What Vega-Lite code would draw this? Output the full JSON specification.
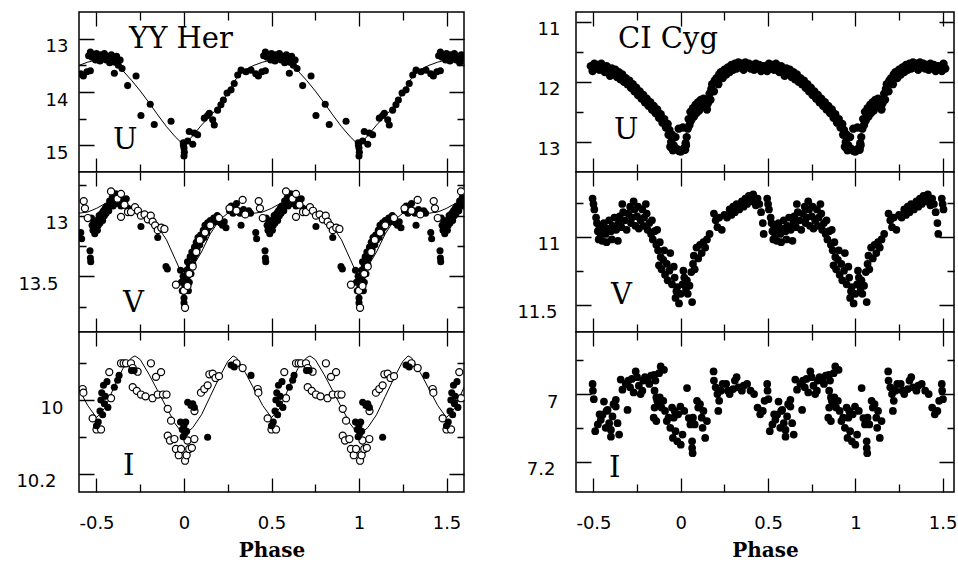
{
"$schema":"https://vega.github.io/schema/vega-lite/v6.json",
"autosize":{"type":"pad"},
"padding":{"left":15,"top":11,"right":0,"bottom":0},
"background":"white",
"spacing":51,
"config":{
"view":{"stroke":"black","strokeWidth":1.5,"fill":"white"},
"axis":{"grid":true,"gridColor":"black","gridOpacity":1,"gridWidth":1.3,"ticks":false,"domain":false,"labelFont":"DejaVu Sans","labelFontSize":18,"labelColor":"black","labelFlush":false,"labelOverlap":false,"titleFont":"DejaVu Serif","titleFontSize":20,"titleFontWeight":"bold","titleColor":"black"},
"axisY":{"labelBaseline":"top","labelOffset":-1},
"title":{"font":"DejaVu Serif","fontSize":29,"fontWeight":"normal","color":"black","anchor":"start","frame":"group","orient":"top","baseline":"alphabetic"}
},
"datasets":{
"yyU":[{"phase":-0.59,"mag":13.66},{"phase":-0.575,"mag":13.7},{"phase":-0.555,"mag":13.62},{"phase":-0.535,"mag":13.6},{"phase":-0.545,"mag":13.32},{"phase":-0.535,"mag":13.25},{"phase":-0.525,"mag":13.35},{"phase":-0.515,"mag":13.3},{"phase":-0.505,"mag":13.4},{"phase":-0.5,"mag":13.28},{"phase":-0.49,"mag":13.35},{"phase":-0.48,"mag":13.42},{"phase":-0.475,"mag":13.3},{"phase":-0.465,"mag":13.37},{"phase":-0.455,"mag":13.28},{"phase":-0.445,"mag":13.4},{"phase":-0.435,"mag":13.33},{"phase":-0.425,"mag":13.45},{"phase":-0.415,"mag":13.3},{"phase":-0.405,"mag":13.38},{"phase":-0.395,"mag":13.44},{"phase":-0.385,"mag":13.33},{"phase":-0.375,"mag":13.5},{"phase":-0.365,"mag":13.4},{"phase":-0.398,"mag":13.65},{"phase":-0.354,"mag":13.56},{"phase":-0.322,"mag":13.88},{"phase":-0.274,"mag":13.7},{"phase":-0.246,"mag":14.44},{"phase":-0.193,"mag":14.23},{"phase":-0.17,"mag":14.61},{"phase":-0.074,"mag":14.55},{"phase":-0.004,"mag":14.95},{"phase":0,"mag":15.05},{"phase":0.002,"mag":15.13},{"phase":0,"mag":15.2},{"phase":-0.003,"mag":15.0},{"phase":0.021,"mag":14.92},{"phase":0.03,"mag":14.74},{"phase":0.05,"mag":14.98},{"phase":0.059,"mag":14.77},{"phase":0.078,"mag":14.8},{"phase":0.116,"mag":14.49},{"phase":0.135,"mag":14.44},{"phase":0.145,"mag":14.4},{"phase":0.164,"mag":14.52},{"phase":0.173,"mag":14.62},{"phase":0.192,"mag":14.34},{"phase":0.211,"mag":14.24},{"phase":0.225,"mag":14.15},{"phase":0.246,"mag":14.02},{"phase":0.269,"mag":13.96},{"phase":0.287,"mag":13.84},{"phase":0.307,"mag":13.68},{"phase":0.326,"mag":13.59},{"phase":0.354,"mag":13.62},{"phase":0.383,"mag":13.59},
{"phase":0.41,"mag":13.66},{"phase":0.425,"mag":13.7},{"phase":0.445,"mag":13.62},{"phase":0.465,"mag":13.6},{"phase":0.455,"mag":13.32},{"phase":0.465,"mag":13.25},{"phase":0.475,"mag":13.35},{"phase":0.485,"mag":13.3},{"phase":0.495,"mag":13.4},{"phase":0.5,"mag":13.28},{"phase":0.51,"mag":13.35},{"phase":0.52,"mag":13.42},{"phase":0.525,"mag":13.3},{"phase":0.535,"mag":13.37},{"phase":0.545,"mag":13.28},{"phase":0.555,"mag":13.4},{"phase":0.565,"mag":13.33},{"phase":0.575,"mag":13.45},{"phase":0.585,"mag":13.3},{"phase":0.595,"mag":13.38},{"phase":0.605,"mag":13.44},{"phase":0.615,"mag":13.33},{"phase":0.625,"mag":13.5},{"phase":0.635,"mag":13.4},{"phase":0.602,"mag":13.65},{"phase":0.646,"mag":13.56},{"phase":0.678,"mag":13.88},{"phase":0.726,"mag":13.7},{"phase":0.754,"mag":14.44},{"phase":0.807,"mag":14.23},{"phase":0.83,"mag":14.61},{"phase":0.926,"mag":14.55},{"phase":0.996,"mag":14.95},{"phase":1,"mag":15.05},{"phase":1.002,"mag":15.13},{"phase":1,"mag":15.2},{"phase":0.997,"mag":15.0},{"phase":1.021,"mag":14.92},{"phase":1.03,"mag":14.74},{"phase":1.05,"mag":14.98},{"phase":1.059,"mag":14.77},{"phase":1.078,"mag":14.8},{"phase":1.116,"mag":14.49},{"phase":1.135,"mag":14.44},{"phase":1.145,"mag":14.4},{"phase":1.164,"mag":14.52},{"phase":1.173,"mag":14.62},{"phase":1.192,"mag":14.34},{"phase":1.211,"mag":14.24},{"phase":1.225,"mag":14.15},{"phase":1.246,"mag":14.02},{"phase":1.269,"mag":13.96},{"phase":1.287,"mag":13.84},{"phase":1.307,"mag":13.68},{"phase":1.326,"mag":13.59},{"phase":1.354,"mag":13.62},{"phase":1.383,"mag":13.59},
{"phase":1.41,"mag":13.66},{"phase":1.425,"mag":13.7},{"phase":1.445,"mag":13.62},{"phase":1.465,"mag":13.6},{"phase":1.455,"mag":13.32},{"phase":1.465,"mag":13.25},{"phase":1.475,"mag":13.35},{"phase":1.485,"mag":13.3},{"phase":1.495,"mag":13.4},{"phase":1.5,"mag":13.28},{"phase":1.51,"mag":13.35},{"phase":1.52,"mag":13.42},{"phase":1.525,"mag":13.3},{"phase":1.535,"mag":13.37},{"phase":1.545,"mag":13.28},{"phase":1.555,"mag":13.4},{"phase":1.565,"mag":13.33},{"phase":1.575,"mag":13.45},{"phase":1.585,"mag":13.3},{"phase":1.595,"mag":13.38}],
"yyUfit":[{"phase":-0.6,"mag":13.5},{"phase":-0.55,"mag":13.44},{"phase":-0.5,"mag":13.4},{"phase":-0.45,"mag":13.4},{"phase":-0.4,"mag":13.47},{"phase":-0.35,"mag":13.6},{"phase":-0.3,"mag":13.78},{"phase":-0.25,"mag":13.98},{"phase":-0.2,"mag":14.2},{"phase":-0.15,"mag":14.43},{"phase":-0.1,"mag":14.65},{"phase":-0.05,"mag":14.84},{"phase":0,"mag":15.0},{"phase":0.05,"mag":14.82},{"phase":0.1,"mag":14.62},{"phase":0.15,"mag":14.45},{"phase":0.2,"mag":14.27},{"phase":0.25,"mag":14.03},{"phase":0.3,"mag":13.74},{"phase":0.35,"mag":13.58},{"phase":0.4,"mag":13.5},{"phase":0.45,"mag":13.44},{"phase":0.5,"mag":13.4},{"phase":0.55,"mag":13.4},{"phase":0.6,"mag":13.47},{"phase":0.65,"mag":13.6},{"phase":0.7,"mag":13.78},{"phase":0.75,"mag":13.98},{"phase":0.8,"mag":14.2},{"phase":0.85,"mag":14.43},{"phase":0.9,"mag":14.65},{"phase":0.95,"mag":14.84},{"phase":1.0,"mag":15.0},{"phase":1.05,"mag":14.82},{"phase":1.1,"mag":14.62},{"phase":1.15,"mag":14.45},{"phase":1.2,"mag":14.27},{"phase":1.25,"mag":14.03},{"phase":1.3,"mag":13.74},{"phase":1.35,"mag":13.58},{"phase":1.4,"mag":13.5},{"phase":1.45,"mag":13.44},{"phase":1.5,"mag":13.4},{"phase":1.55,"mag":13.4},{"phase":1.6,"mag":13.47}],
"yyVf":[{"phase":-0.59,"mag":13.14},{"phase":-0.585,"mag":13.19},{"phase":-0.537,"mag":13.29},{"phase":-0.535,"mag":13.35},{"phase":-0.533,"mag":13.38},{"phase":-0.53,"mag":13.02},{"phase":-0.525,"mag":13.08},{"phase":-0.52,"mag":13.12},{"phase":-0.515,"mag":13.05},{"phase":-0.51,"mag":13.15},{"phase":-0.505,"mag":13.1},{"phase":-0.5,"mag":13.04},{"phase":-0.495,"mag":13.12},{"phase":-0.49,"mag":13.08},{"phase":-0.485,"mag":13.0},{"phase":-0.48,"mag":13.06},{"phase":-0.475,"mag":13.02},{"phase":-0.47,"mag":12.98},{"phase":-0.465,"mag":13.04},{"phase":-0.46,"mag":12.96},{"phase":-0.455,"mag":13.0},{"phase":-0.45,"mag":12.94},{"phase":-0.445,"mag":12.98},{"phase":-0.44,"mag":12.92},{"phase":-0.43,"mag":12.96},{"phase":-0.425,"mag":12.88},{"phase":-0.42,"mag":12.9},{"phase":-0.41,"mag":12.85},{"phase":-0.405,"mag":12.92},{"phase":-0.4,"mag":12.86},{"phase":-0.39,"mag":12.82},{"phase":-0.385,"mag":12.9},{"phase":-0.38,"mag":12.86},{"phase":-0.37,"mag":12.88},{"phase":-0.365,"mag":12.84},{"phase":-0.36,"mag":12.92},{"phase":-0.35,"mag":12.87},{"phase":-0.34,"mag":12.9},{"phase":-0.33,"mag":12.86},{"phase":-0.32,"mag":12.94},{"phase":-0.246,"mag":13.09},{"phase":-0.15,"mag":13.18},{"phase":-0.103,"mag":13.42},{"phase":-0.095,"mag":13.44},{"phase":-0.02,"mag":13.45},{"phase":-0.015,"mag":13.55},{"phase":-0.01,"mag":13.62},{"phase":-0.005,"mag":13.5},{"phase":0,"mag":13.68},{"phase":0,"mag":13.72},{"phase":0.005,"mag":13.58},{"phase":0.01,"mag":13.6},{"phase":0.012,"mag":13.52},{"phase":0.015,"mag":13.45},{"phase":0.02,"mag":13.38},{"phase":0.02,"mag":13.5},{"phase":0.025,"mag":13.62},{"phase":0.03,"mag":13.42},{"phase":0.03,"mag":13.55},{"phase":0.035,"mag":13.34},{"phase":0.04,"mag":13.48},{"phase":0.045,"mag":13.3},{"phase":0.05,"mag":13.4},{"phase":0.055,"mag":13.35},{"phase":0.06,"mag":13.26},{"phase":0.065,"mag":13.32},{"phase":0.07,"mag":13.22},{"phase":0.075,"mag":13.28},{"phase":0.08,"mag":13.18},{"phase":0.09,"mag":13.24},{"phase":0.095,"mag":13.16},{"phase":0.1,"mag":13.2},{"phase":0.11,"mag":13.12},{"phase":0.115,"mag":13.18},{"phase":0.12,"mag":13.08},{"phase":0.13,"mag":13.14},{"phase":0.135,"mag":13.06},{"phase":0.14,"mag":13.1},{"phase":0.15,"mag":13.04},{"phase":0.16,"mag":13.06},{"phase":0.17,"mag":13.02},{"phase":0.18,"mag":13.05},{"phase":0.19,"mag":13.0},{"phase":0.2,"mag":13.04},{"phase":0.21,"mag":13.06},{"phase":0.22,"mag":13.08},{"phase":0.23,"mag":13.05},{"phase":0.24,"mag":13.1},{"phase":0.26,"mag":12.96},{"phase":0.27,"mag":12.92},{"phase":0.28,"mag":12.98},{"phase":0.29,"mag":12.94},{"phase":0.3,"mag":12.9},{"phase":0.31,"mag":12.96},{"phase":0.32,"mag":12.98},{"phase":0.326,"mag":13.08},{"phase":0.34,"mag":12.95},{"phase":0.36,"mag":12.98},{"phase":0.37,"mag":12.96},{"phase":0.38,"mag":12.98},
{"phase":0.41,"mag":13.14},{"phase":0.415,"mag":13.19},{"phase":0.463,"mag":13.29},{"phase":0.465,"mag":13.35},{"phase":0.467,"mag":13.38},{"phase":0.47,"mag":13.02},{"phase":0.475,"mag":13.08},{"phase":0.48,"mag":13.12},{"phase":0.485,"mag":13.05},{"phase":0.49,"mag":13.15},{"phase":0.495,"mag":13.1},{"phase":0.5,"mag":13.04},{"phase":0.505,"mag":13.12},{"phase":0.51,"mag":13.08},{"phase":0.515,"mag":13.0},{"phase":0.52,"mag":13.06},{"phase":0.525,"mag":13.02},{"phase":0.53,"mag":12.98},{"phase":0.535,"mag":13.04},{"phase":0.54,"mag":12.96},{"phase":0.545,"mag":13.0},{"phase":0.55,"mag":12.94},{"phase":0.555,"mag":12.98},{"phase":0.56,"mag":12.92},{"phase":0.57,"mag":12.96},{"phase":0.575,"mag":12.88},{"phase":0.58,"mag":12.9},{"phase":0.59,"mag":12.85},{"phase":0.595,"mag":12.92},{"phase":0.6,"mag":12.86},{"phase":0.61,"mag":12.82},{"phase":0.615,"mag":12.9},{"phase":0.62,"mag":12.86},{"phase":0.63,"mag":12.88},{"phase":0.635,"mag":12.84},{"phase":0.64,"mag":12.92},{"phase":0.65,"mag":12.87},{"phase":0.66,"mag":12.9},{"phase":0.67,"mag":12.86},{"phase":0.68,"mag":12.94},{"phase":0.754,"mag":13.09},{"phase":0.85,"mag":13.18},{"phase":0.897,"mag":13.42},{"phase":0.905,"mag":13.44},{"phase":0.98,"mag":13.45},{"phase":0.985,"mag":13.55},{"phase":0.99,"mag":13.62},{"phase":0.995,"mag":13.5},{"phase":1,"mag":13.68},{"phase":1,"mag":13.72},{"phase":1.005,"mag":13.58},{"phase":1.01,"mag":13.6},{"phase":1.012,"mag":13.52},{"phase":1.015,"mag":13.45},{"phase":1.02,"mag":13.38},{"phase":1.02,"mag":13.5},{"phase":1.025,"mag":13.62},{"phase":1.03,"mag":13.42},{"phase":1.03,"mag":13.55},{"phase":1.035,"mag":13.34},{"phase":1.04,"mag":13.48},{"phase":1.045,"mag":13.3},{"phase":1.05,"mag":13.4},{"phase":1.055,"mag":13.35},{"phase":1.06,"mag":13.26},{"phase":1.065,"mag":13.32},{"phase":1.07,"mag":13.22},{"phase":1.075,"mag":13.28},{"phase":1.08,"mag":13.18},{"phase":1.09,"mag":13.24},{"phase":1.095,"mag":13.16},{"phase":1.1,"mag":13.2},{"phase":1.11,"mag":13.12},{"phase":1.115,"mag":13.18},{"phase":1.12,"mag":13.08},{"phase":1.13,"mag":13.14},{"phase":1.135,"mag":13.06},{"phase":1.14,"mag":13.1},{"phase":1.15,"mag":13.04},{"phase":1.16,"mag":13.06},{"phase":1.17,"mag":13.02},{"phase":1.18,"mag":13.05},{"phase":1.19,"mag":13.0},{"phase":1.2,"mag":13.04},{"phase":1.21,"mag":13.06},{"phase":1.22,"mag":13.08},{"phase":1.23,"mag":13.05},{"phase":1.24,"mag":13.1},{"phase":1.26,"mag":12.96},{"phase":1.27,"mag":12.92},{"phase":1.28,"mag":12.98},{"phase":1.29,"mag":12.94},{"phase":1.3,"mag":12.9},{"phase":1.31,"mag":12.96},{"phase":1.32,"mag":12.98},{"phase":1.326,"mag":13.08},{"phase":1.34,"mag":12.95},{"phase":1.36,"mag":12.98},{"phase":1.37,"mag":12.96},{"phase":1.38,"mag":12.98},
{"phase":1.41,"mag":13.14},{"phase":1.415,"mag":13.19},{"phase":1.463,"mag":13.29},{"phase":1.465,"mag":13.35},{"phase":1.467,"mag":13.38},{"phase":1.47,"mag":13.02},{"phase":1.475,"mag":13.08},{"phase":1.48,"mag":13.12},{"phase":1.485,"mag":13.05},{"phase":1.49,"mag":13.15},{"phase":1.495,"mag":13.1},{"phase":1.5,"mag":13.04},{"phase":1.505,"mag":13.12},{"phase":1.51,"mag":13.08},{"phase":1.515,"mag":13.0},{"phase":1.52,"mag":13.06},{"phase":1.525,"mag":13.02},{"phase":1.53,"mag":12.98},{"phase":1.535,"mag":13.04},{"phase":1.54,"mag":12.96},{"phase":1.545,"mag":13.0},{"phase":1.55,"mag":12.94},{"phase":1.555,"mag":12.98},{"phase":1.56,"mag":12.92},{"phase":1.57,"mag":12.96},{"phase":1.575,"mag":12.88},{"phase":1.58,"mag":12.9},{"phase":1.59,"mag":12.85},{"phase":1.595,"mag":12.92},{"phase":1.6,"mag":12.86}],
"yyVo":[{"phase":-0.573,"mag":12.88},{"phase":-0.566,"mag":12.94},{"phase":-0.55,"mag":13.02},{"phase":-0.417,"mag":12.8},{"phase":-0.38,"mag":12.86},{"phase":-0.36,"mag":12.82},{"phase":-0.34,"mag":12.91},{"phase":-0.36,"mag":13.01},{"phase":-0.32,"mag":12.97},{"phase":-0.303,"mag":12.97},{"phase":-0.28,"mag":12.93},{"phase":-0.263,"mag":12.96},{"phase":-0.246,"mag":13.0},{"phase":-0.225,"mag":12.99},{"phase":-0.207,"mag":13.03},{"phase":-0.19,"mag":13.0},{"phase":-0.179,"mag":13.05},{"phase":-0.165,"mag":13.08},{"phase":-0.15,"mag":13.12},{"phase":-0.13,"mag":13.1},{"phase":-0.112,"mag":13.11},{"phase":-0.046,"mag":13.57},{"phase":0.006,"mag":13.76},{"phase":0,"mag":13.62},{"phase":0.02,"mag":13.58},{"phase":0.03,"mag":13.48},{"phase":0.05,"mag":13.42},{"phase":0.07,"mag":13.3},{"phase":0.09,"mag":13.2},{"phase":0.12,"mag":13.14},{"phase":0.15,"mag":13.08},{"phase":0.2,"mag":13.02},{"phase":0.26,"mag":12.94},{"phase":0.3,"mag":12.96},{"phase":0.335,"mag":12.87},{"phase":0.35,"mag":12.99},
{"phase":0.427,"mag":12.88},{"phase":0.434,"mag":12.94},{"phase":0.45,"mag":13.02},{"phase":0.583,"mag":12.8},{"phase":0.62,"mag":12.86},{"phase":0.64,"mag":12.82},{"phase":0.66,"mag":12.91},{"phase":0.64,"mag":13.01},{"phase":0.68,"mag":12.97},{"phase":0.697,"mag":12.97},{"phase":0.72,"mag":12.93},{"phase":0.737,"mag":12.96},{"phase":0.754,"mag":13.0},{"phase":0.775,"mag":12.99},{"phase":0.793,"mag":13.03},{"phase":0.81,"mag":13.0},{"phase":0.821,"mag":13.05},{"phase":0.835,"mag":13.08},{"phase":0.85,"mag":13.12},{"phase":0.87,"mag":13.1},{"phase":0.888,"mag":13.11},{"phase":0.954,"mag":13.57},{"phase":1.006,"mag":13.76},{"phase":1,"mag":13.62},{"phase":1.02,"mag":13.58},{"phase":1.03,"mag":13.48},{"phase":1.05,"mag":13.42},{"phase":1.07,"mag":13.3},{"phase":1.09,"mag":13.2},{"phase":1.12,"mag":13.14},{"phase":1.15,"mag":13.08},{"phase":1.2,"mag":13.02},{"phase":1.26,"mag":12.94},{"phase":1.3,"mag":12.96},{"phase":1.335,"mag":12.87},{"phase":1.35,"mag":12.99},
{"phase":1.427,"mag":12.88},{"phase":1.434,"mag":12.94},{"phase":1.45,"mag":13.02},{"phase":1.583,"mag":12.8}],
"yyVfit":[{"phase":-0.6,"mag":12.98},{"phase":-0.55,"mag":12.97},{"phase":-0.5,"mag":12.94},{"phase":-0.45,"mag":12.9},{"phase":-0.4,"mag":12.88},{"phase":-0.35,"mag":12.89},{"phase":-0.3,"mag":12.93},{"phase":-0.25,"mag":12.98},{"phase":-0.2,"mag":13.03},{"phase":-0.15,"mag":13.09},{"phase":-0.1,"mag":13.2},{"phase":-0.05,"mag":13.36},{"phase":0,"mag":13.52},{"phase":0.05,"mag":13.42},{"phase":0.1,"mag":13.3},{"phase":0.15,"mag":13.15},{"phase":0.2,"mag":13.04},{"phase":0.25,"mag":12.98},{"phase":0.3,"mag":12.97},{"phase":0.35,"mag":12.97},{"phase":0.4,"mag":12.98},{"phase":0.45,"mag":12.97},{"phase":0.5,"mag":12.94},{"phase":0.55,"mag":12.9},{"phase":0.6,"mag":12.88},{"phase":0.65,"mag":12.89},{"phase":0.7,"mag":12.93},{"phase":0.75,"mag":12.98},{"phase":0.8,"mag":13.03},{"phase":0.85,"mag":13.09},{"phase":0.9,"mag":13.2},{"phase":0.95,"mag":13.36},{"phase":1.0,"mag":13.52},{"phase":1.05,"mag":13.42},{"phase":1.1,"mag":13.3},{"phase":1.15,"mag":13.15},{"phase":1.2,"mag":13.04},{"phase":1.25,"mag":12.98},{"phase":1.3,"mag":12.97},{"phase":1.35,"mag":12.97},{"phase":1.4,"mag":12.98},{"phase":1.45,"mag":12.97},{"phase":1.5,"mag":12.94},{"phase":1.55,"mag":12.9},{"phase":1.6,"mag":12.88}],
"yyIo":[{"phase":-0.579,"mag":9.97},{"phase":-0.575,"mag":9.98},{"phase":-0.522,"mag":10.05},{"phase":-0.5,"mag":10.08},{"phase":-0.474,"mag":10.08},{"phase":-0.427,"mag":9.924},{"phase":-0.417,"mag":9.995},{"phase":-0.36,"mag":9.9},{"phase":-0.345,"mag":9.9},{"phase":-0.331,"mag":9.9},{"phase":-0.303,"mag":9.9},{"phase":-0.293,"mag":9.913},{"phase":-0.265,"mag":9.923},{"phase":-0.293,"mag":9.965},{"phase":-0.27,"mag":9.975},{"phase":-0.246,"mag":9.985},{"phase":-0.22,"mag":9.99},{"phase":-0.189,"mag":9.9},{"phase":-0.18,"mag":9.995},{"phase":-0.16,"mag":9.937},{"phase":-0.15,"mag":9.985},{"phase":-0.131,"mag":9.924},{"phase":-0.12,"mag":9.985},{"phase":-0.1,"mag":9.985},{"phase":-0.093,"mag":10.024},{"phase":-0.074,"mag":10.056},{"phase":-0.093,"mag":10.097},{"phase":-0.08,"mag":10.11},{"phase":-0.055,"mag":10.106},{"phase":-0.046,"mag":10.133},{"phase":-0.03,"mag":10.15},{"phase":-0.017,"mag":10.133},{"phase":0.006,"mag":10.165},{"phase":0.015,"mag":10.15},{"phase":0.02,"mag":10.11},{"phase":0.03,"mag":10.133},{"phase":0.045,"mag":10.13},{"phase":0.059,"mag":10.106},{"phase":0.06,"mag":10.03},{"phase":0.097,"mag":9.98},{"phase":0.116,"mag":9.97},{"phase":0.135,"mag":9.96},{"phase":0.145,"mag":9.93},{"phase":0.164,"mag":9.928},{"phase":0.18,"mag":9.94},{"phase":0.2,"mag":9.935},{"phase":0.3,"mag":9.9},{"phase":0.335,"mag":9.913},
{"phase":0.421,"mag":9.97},{"phase":0.425,"mag":9.98},{"phase":0.478,"mag":10.05},{"phase":0.5,"mag":10.08},{"phase":0.526,"mag":10.08},{"phase":0.573,"mag":9.924},{"phase":0.583,"mag":9.995},{"phase":0.64,"mag":9.9},{"phase":0.655,"mag":9.9},{"phase":0.669,"mag":9.9},{"phase":0.697,"mag":9.9},{"phase":0.707,"mag":9.913},{"phase":0.735,"mag":9.923},{"phase":0.707,"mag":9.965},{"phase":0.73,"mag":9.975},{"phase":0.754,"mag":9.985},{"phase":0.78,"mag":9.99},{"phase":0.811,"mag":9.9},{"phase":0.82,"mag":9.995},{"phase":0.84,"mag":9.937},{"phase":0.85,"mag":9.985},{"phase":0.869,"mag":9.924},{"phase":0.88,"mag":9.985},{"phase":0.9,"mag":9.985},{"phase":0.907,"mag":10.024},{"phase":0.926,"mag":10.056},{"phase":0.907,"mag":10.097},{"phase":0.92,"mag":10.11},{"phase":0.945,"mag":10.106},{"phase":0.954,"mag":10.133},{"phase":0.97,"mag":10.15},{"phase":0.983,"mag":10.133},{"phase":1.006,"mag":10.165},{"phase":1.015,"mag":10.15},{"phase":1.02,"mag":10.11},{"phase":1.03,"mag":10.133},{"phase":1.045,"mag":10.13},{"phase":1.059,"mag":10.106},{"phase":1.06,"mag":10.03},{"phase":1.097,"mag":9.98},{"phase":1.116,"mag":9.97},{"phase":1.135,"mag":9.96},{"phase":1.145,"mag":9.93},{"phase":1.164,"mag":9.928},{"phase":1.18,"mag":9.94},{"phase":1.2,"mag":9.935},{"phase":1.3,"mag":9.9},{"phase":1.335,"mag":9.913},
{"phase":1.421,"mag":9.97},{"phase":1.425,"mag":9.98},{"phase":1.478,"mag":10.05},{"phase":1.5,"mag":10.08},{"phase":1.526,"mag":10.08},{"phase":1.573,"mag":9.924},{"phase":1.583,"mag":9.995}],
"yyIf":[{"phase":-0.5,"mag":10.07},{"phase":-0.49,"mag":10.06},{"phase":-0.48,"mag":10.03},{"phase":-0.475,"mag":10.0},{"phase":-0.47,"mag":9.98},{"phase":-0.465,"mag":10.04},{"phase":-0.46,"mag":9.96},{"phase":-0.455,"mag":10.01},{"phase":-0.45,"mag":9.99},{"phase":-0.44,"mag":9.95},{"phase":-0.435,"mag":10.02},{"phase":-0.398,"mag":9.965},{"phase":-0.379,"mag":9.946},{"phase":-0.371,"mag":9.933},{"phase":-0.3,"mag":9.92},{"phase":-0.285,"mag":9.92},{"phase":-0.02,"mag":10.06},{"phase":-0.01,"mag":10.08},{"phase":0,"mag":10.07},{"phase":0.005,"mag":10.09},{"phase":0.01,"mag":10.06},{"phase":-0.005,"mag":10.1},{"phase":0.015,"mag":10.085},{"phase":0.021,"mag":10.006},{"phase":0.04,"mag":10.015},{"phase":0.05,"mag":10.01},{"phase":0.059,"mag":10.02},{"phase":0.135,"mag":10.101},{"phase":0.269,"mag":9.905},{"phase":0.287,"mag":9.91},{"phase":0.383,"mag":9.933},
{"phase":0.5,"mag":10.07},{"phase":0.51,"mag":10.06},{"phase":0.52,"mag":10.03},{"phase":0.525,"mag":10.0},{"phase":0.53,"mag":9.98},{"phase":0.535,"mag":10.04},{"phase":0.54,"mag":9.96},{"phase":0.545,"mag":10.01},{"phase":0.55,"mag":9.99},{"phase":0.56,"mag":9.95},{"phase":0.565,"mag":10.02},{"phase":0.602,"mag":9.965},{"phase":0.621,"mag":9.946},{"phase":0.629,"mag":9.933},{"phase":0.7,"mag":9.92},{"phase":0.715,"mag":9.92},{"phase":0.98,"mag":10.06},{"phase":0.99,"mag":10.08},{"phase":1,"mag":10.07},{"phase":1.005,"mag":10.09},{"phase":1.01,"mag":10.06},{"phase":0.995,"mag":10.1},{"phase":1.015,"mag":10.085},{"phase":1.021,"mag":10.006},{"phase":1.04,"mag":10.015},{"phase":1.05,"mag":10.01},{"phase":1.059,"mag":10.02},{"phase":1.135,"mag":10.101},{"phase":1.269,"mag":9.905},{"phase":1.287,"mag":9.91},{"phase":1.383,"mag":9.933},
{"phase":1.5,"mag":10.07},{"phase":1.51,"mag":10.06},{"phase":1.52,"mag":10.03},{"phase":1.525,"mag":10.0},{"phase":1.53,"mag":9.98},{"phase":1.535,"mag":10.04},{"phase":1.54,"mag":9.96},{"phase":1.545,"mag":10.01},{"phase":1.55,"mag":9.99},{"phase":1.56,"mag":9.95},{"phase":1.565,"mag":10.02}],
"yyIfit":[{"phase":-0.6,"mag":9.97},{"phase":-0.55,"mag":10.015},{"phase":-0.5,"mag":10.048},{"phase":-0.45,"mag":10.02},{"phase":-0.4,"mag":9.965},{"phase":-0.35,"mag":9.915},{"phase":-0.3,"mag":9.885},{"phase":-0.28,"mag":9.88},{"phase":-0.25,"mag":9.89},{"phase":-0.2,"mag":9.93},{"phase":-0.15,"mag":9.975},{"phase":-0.1,"mag":10.02},{"phase":-0.05,"mag":10.065},{"phase":0,"mag":10.095},{"phase":0.05,"mag":10.075},{"phase":0.1,"mag":10.04},{"phase":0.15,"mag":9.99},{"phase":0.2,"mag":9.94},{"phase":0.25,"mag":9.895},{"phase":0.28,"mag":9.88},{"phase":0.3,"mag":9.885},{"phase":0.35,"mag":9.925},{"phase":0.4,"mag":9.97},{"phase":0.45,"mag":10.015},{"phase":0.5,"mag":10.048},{"phase":0.55,"mag":10.02},{"phase":0.6,"mag":9.965},{"phase":0.65,"mag":9.915},{"phase":0.7,"mag":9.885},{"phase":0.72,"mag":9.88},{"phase":0.75,"mag":9.89},{"phase":0.8,"mag":9.93},{"phase":0.85,"mag":9.975},{"phase":0.9,"mag":10.02},{"phase":0.95,"mag":10.065},{"phase":1.0,"mag":10.095},{"phase":1.05,"mag":10.075},{"phase":1.1,"mag":10.04},{"phase":1.15,"mag":9.99},{"phase":1.2,"mag":9.94},{"phase":1.25,"mag":9.895},{"phase":1.28,"mag":9.88},{"phase":1.3,"mag":9.885},{"phase":1.35,"mag":9.925},{"phase":1.4,"mag":9.97},{"phase":1.45,"mag":10.015},{"phase":1.5,"mag":10.048},{"phase":1.55,"mag":10.02},{"phase":1.6,"mag":9.965}],
"ciU":[{"phase":-0.515,"mag":11.74},{"phase":-0.505,"mag":11.82},{"phase":-0.495,"mag":11.7},{"phase":-0.485,"mag":11.78},{"phase":-0.475,"mag":11.72},{"phase":-0.465,"mag":11.8},{"phase":-0.455,"mag":11.7},{"phase":-0.445,"mag":11.76},{"phase":-0.435,"mag":11.84},{"phase":-0.425,"mag":11.74},{"phase":-0.415,"mag":11.8},{"phase":-0.405,"mag":11.9},{"phase":-0.395,"mag":11.78},{"phase":-0.385,"mag":11.86},{"phase":-0.375,"mag":11.8},{"phase":-0.365,"mag":11.92},{"phase":-0.355,"mag":11.84},{"phase":-0.345,"mag":11.96},{"phase":-0.335,"mag":11.88},{"phase":-0.325,"mag":12.0},{"phase":-0.315,"mag":11.94},{"phase":-0.305,"mag":12.04},{"phase":-0.295,"mag":11.98},{"phase":-0.285,"mag":12.1},{"phase":-0.275,"mag":12.04},{"phase":-0.265,"mag":12.16},{"phase":-0.255,"mag":12.1},{"phase":-0.245,"mag":12.22},{"phase":-0.235,"mag":12.16},{"phase":-0.225,"mag":12.28},{"phase":-0.215,"mag":12.22},{"phase":-0.205,"mag":12.34},{"phase":-0.195,"mag":12.28},{"phase":-0.185,"mag":12.4},{"phase":-0.175,"mag":12.34},{"phase":-0.165,"mag":12.46},{"phase":-0.155,"mag":12.4},{"phase":-0.145,"mag":12.52},{"phase":-0.135,"mag":12.46},{"phase":-0.125,"mag":12.6},{"phase":-0.115,"mag":12.54},{"phase":-0.105,"mag":12.68},{"phase":-0.095,"mag":12.62},{"phase":-0.085,"mag":12.76},{"phase":-0.075,"mag":12.7},{"phase":-0.07,"mag":12.88},{"phase":-0.065,"mag":12.8},{"phase":-0.06,"mag":13.08},{"phase":-0.055,"mag":13.0},{"phase":-0.05,"mag":12.88},{"phase":-0.045,"mag":13.14},{"phase":-0.04,"mag":13.06},{"phase":-0.03,"mag":12.92},{"phase":-0.02,"mag":13.12},{"phase":-0.01,"mag":13.15},{"phase":0,"mag":13.16},{"phase":0.01,"mag":13.14},{"phase":0.02,"mag":13.1},{"phase":0.025,"mag":13.13},{"phase":0.028,"mag":13.02},{"phase":0.03,"mag":13.06},{"phase":0.034,"mag":12.92},{"phase":-0.012,"mag":12.78},{"phase":0.012,"mag":12.76},{"phase":0.04,"mag":12.78},{"phase":0.045,"mag":12.62},{"phase":0.05,"mag":12.72},{"phase":0.055,"mag":12.5},{"phase":0.06,"mag":12.64},{"phase":0.07,"mag":12.44},{"phase":0.075,"mag":12.58},{"phase":0.085,"mag":12.38},{"phase":0.09,"mag":12.52},{"phase":0.1,"mag":12.34},{"phase":0.105,"mag":12.48},{"phase":0.115,"mag":12.3},{"phase":0.12,"mag":12.42},{"phase":0.13,"mag":12.28},{"phase":0.135,"mag":12.4},{"phase":0.145,"mag":12.32},{"phase":0.15,"mag":12.46},{"phase":0.155,"mag":12.36},{"phase":0.165,"mag":12.2},{"phase":0.17,"mag":12.3},{"phase":0.175,"mag":12.12},{"phase":0.18,"mag":12.04},{"phase":0.19,"mag":12.16},{"phase":0.195,"mag":11.98},{"phase":0.205,"mag":11.94},{"phase":0.215,"mag":12.04},{"phase":0.22,"mag":11.88},{"phase":0.23,"mag":11.84},{"phase":0.24,"mag":11.94},{"phase":0.25,"mag":11.8},{"phase":0.26,"mag":11.88},{"phase":0.27,"mag":11.76},{"phase":0.28,"mag":11.84},{"phase":0.29,"mag":11.72},{"phase":0.3,"mag":11.8},{"phase":0.31,"mag":11.7},{"phase":0.32,"mag":11.78},{"phase":0.33,"mag":11.68},{"phase":0.34,"mag":11.76},{"phase":0.35,"mag":11.7},{"phase":0.36,"mag":11.8},{"phase":0.37,"mag":11.68},{"phase":0.38,"mag":11.75},{"phase":0.39,"mag":11.7},{"phase":0.4,"mag":11.78},{"phase":0.41,"mag":11.72},{"phase":0.42,"mag":11.8},{"phase":0.43,"mag":11.7},{"phase":0.44,"mag":11.76},{"phase":0.45,"mag":11.72},{"phase":0.46,"mag":11.82},{"phase":0.47,"mag":11.74},
{"phase":0.485,"mag":11.74},{"phase":0.495,"mag":11.82},{"phase":0.505,"mag":11.7},{"phase":0.515,"mag":11.78},{"phase":0.525,"mag":11.72},{"phase":0.535,"mag":11.8},{"phase":0.545,"mag":11.7},{"phase":0.555,"mag":11.76},{"phase":0.565,"mag":11.84},{"phase":0.575,"mag":11.74},{"phase":0.585,"mag":11.8},{"phase":0.595,"mag":11.9},{"phase":0.605,"mag":11.78},{"phase":0.615,"mag":11.86},{"phase":0.625,"mag":11.8},{"phase":0.635,"mag":11.92},{"phase":0.645,"mag":11.84},{"phase":0.655,"mag":11.96},{"phase":0.665,"mag":11.88},{"phase":0.675,"mag":12.0},{"phase":0.685,"mag":11.94},{"phase":0.695,"mag":12.04},{"phase":0.705,"mag":11.98},{"phase":0.715,"mag":12.1},{"phase":0.725,"mag":12.04},{"phase":0.735,"mag":12.16},{"phase":0.745,"mag":12.1},{"phase":0.755,"mag":12.22},{"phase":0.765,"mag":12.16},{"phase":0.775,"mag":12.28},{"phase":0.785,"mag":12.22},{"phase":0.795,"mag":12.34},{"phase":0.805,"mag":12.28},{"phase":0.815,"mag":12.4},{"phase":0.825,"mag":12.34},{"phase":0.835,"mag":12.46},{"phase":0.845,"mag":12.4},{"phase":0.855,"mag":12.52},{"phase":0.865,"mag":12.46},{"phase":0.875,"mag":12.6},{"phase":0.885,"mag":12.54},{"phase":0.895,"mag":12.68},{"phase":0.905,"mag":12.62},{"phase":0.915,"mag":12.76},{"phase":0.925,"mag":12.7},{"phase":0.93,"mag":12.88},{"phase":0.935,"mag":12.8},{"phase":0.94,"mag":13.08},{"phase":0.945,"mag":13.0},{"phase":0.95,"mag":12.88},{"phase":0.955,"mag":13.14},{"phase":0.96,"mag":13.06},{"phase":0.97,"mag":12.92},{"phase":0.98,"mag":13.12},{"phase":0.99,"mag":13.15},{"phase":1,"mag":13.16},{"phase":1.01,"mag":13.14},{"phase":1.02,"mag":13.1},{"phase":1.025,"mag":13.13},{"phase":1.028,"mag":13.02},{"phase":1.03,"mag":13.06},{"phase":1.034,"mag":12.92},{"phase":0.988,"mag":12.78},{"phase":1.012,"mag":12.76},{"phase":1.04,"mag":12.78},{"phase":1.045,"mag":12.62},{"phase":1.05,"mag":12.72},{"phase":1.055,"mag":12.5},{"phase":1.06,"mag":12.64},{"phase":1.07,"mag":12.44},{"phase":1.075,"mag":12.58},{"phase":1.085,"mag":12.38},{"phase":1.09,"mag":12.52},{"phase":1.1,"mag":12.34},{"phase":1.105,"mag":12.48},{"phase":1.115,"mag":12.3},{"phase":1.12,"mag":12.42},{"phase":1.13,"mag":12.28},{"phase":1.135,"mag":12.4},{"phase":1.145,"mag":12.32},{"phase":1.15,"mag":12.46},{"phase":1.155,"mag":12.36},{"phase":1.165,"mag":12.2},{"phase":1.17,"mag":12.3},{"phase":1.175,"mag":12.12},{"phase":1.18,"mag":12.04},{"phase":1.19,"mag":12.16},{"phase":1.195,"mag":11.98},{"phase":1.205,"mag":11.94},{"phase":1.215,"mag":12.04},{"phase":1.22,"mag":11.88},{"phase":1.23,"mag":11.84},{"phase":1.24,"mag":11.94},{"phase":1.25,"mag":11.8},{"phase":1.26,"mag":11.88},{"phase":1.27,"mag":11.76},{"phase":1.28,"mag":11.84},{"phase":1.29,"mag":11.72},{"phase":1.3,"mag":11.8},{"phase":1.31,"mag":11.7},{"phase":1.32,"mag":11.78},{"phase":1.33,"mag":11.68},{"phase":1.34,"mag":11.76},{"phase":1.35,"mag":11.7},{"phase":1.36,"mag":11.8},{"phase":1.37,"mag":11.68},{"phase":1.38,"mag":11.75},{"phase":1.39,"mag":11.7},{"phase":1.4,"mag":11.78},{"phase":1.41,"mag":11.72},{"phase":1.42,"mag":11.8},{"phase":1.43,"mag":11.7},{"phase":1.44,"mag":11.76},{"phase":1.45,"mag":11.72},{"phase":1.46,"mag":11.82},{"phase":1.47,"mag":11.74},
{"phase":1.485,"mag":11.74},{"phase":1.495,"mag":11.82},{"phase":1.505,"mag":11.7},{"phase":1.515,"mag":11.78}],
"ciV":[{"phase":-0.505,"mag":10.72},{"phase":-0.5,"mag":10.76},{"phase":-0.495,"mag":10.8},{"phase":-0.485,"mag":10.86},{"phase":-0.48,"mag":10.9},{"phase":-0.475,"mag":10.96},{"phase":-0.47,"mag":11.02},{"phase":-0.465,"mag":10.93},{"phase":-0.46,"mag":10.98},{"phase":-0.45,"mag":11.03},{"phase":-0.445,"mag":10.95},{"phase":-0.44,"mag":10.9},{"phase":-0.43,"mag":10.98},{"phase":-0.425,"mag":11.04},{"phase":-0.42,"mag":10.94},{"phase":-0.41,"mag":10.88},{"phase":-0.4,"mag":10.96},{"phase":-0.395,"mag":11.02},{"phase":-0.39,"mag":10.92},{"phase":-0.38,"mag":10.86},{"phase":-0.37,"mag":10.95},{"phase":-0.36,"mag":11.03},{"phase":-0.355,"mag":10.9},{"phase":-0.35,"mag":10.85},{"phase":-0.34,"mag":10.93},{"phase":-0.335,"mag":10.76},{"phase":-0.33,"mag":10.82},{"phase":-0.32,"mag":10.88},{"phase":-0.31,"mag":10.95},{"phase":-0.3,"mag":10.83},{"phase":-0.29,"mag":10.78},{"phase":-0.285,"mag":10.9},{"phase":-0.28,"mag":10.86},{"phase":-0.27,"mag":10.74},{"phase":-0.265,"mag":10.8},{"phase":-0.26,"mag":10.92},{"phase":-0.25,"mag":10.85},{"phase":-0.245,"mag":10.78},{"phase":-0.24,"mag":10.94},{"phase":-0.23,"mag":10.88},{"phase":-0.22,"mag":10.8},{"phase":-0.215,"mag":10.92},{"phase":-0.21,"mag":10.86},{"phase":-0.2,"mag":10.76},{"phase":-0.195,"mag":10.83},{"phase":-0.19,"mag":10.95},{"phase":-0.18,"mag":10.9},{"phase":-0.17,"mag":10.98},{"phase":-0.165,"mag":10.88},{"phase":-0.16,"mag":11.02},{"phase":-0.15,"mag":10.96},{"phase":-0.14,"mag":11.06},{"phase":-0.135,"mag":10.95},{"phase":-0.13,"mag":11.1},{"phase":-0.125,"mag":11.21},{"phase":-0.12,"mag":11.04},{"phase":-0.115,"mag":11.15},{"phase":-0.11,"mag":11.24},{"phase":-0.1,"mag":11.17},{"phase":-0.095,"mag":11.1},{"phase":-0.09,"mag":11.28},{"phase":-0.08,"mag":11.2},{"phase":-0.075,"mag":11.32},{"phase":-0.065,"mag":11.25},{"phase":-0.06,"mag":11.12},{"phase":-0.05,"mag":11.35},{"phase":-0.04,"mag":11.22},{"phase":-0.035,"mag":11.3},{"phase":-0.03,"mag":11.45},{"phase":-0.025,"mag":11.4},{"phase":-0.02,"mag":11.37},{"phase":-0.01,"mag":11.49},{"phase":0,"mag":11.42},{"phase":0.01,"mag":11.35},{"phase":0.015,"mag":11.25},{"phase":0.02,"mag":11.3},{"phase":0.03,"mag":11.38},{"phase":0.035,"mag":11.32},{"phase":0.04,"mag":11.42},{"phase":0.05,"mag":11.36},{"phase":0.06,"mag":11.26},{"phase":0.065,"mag":11.48},{"phase":0.07,"mag":11.2},{"phase":0.075,"mag":11.14},{"phase":0.08,"mag":11.24},{"phase":0.09,"mag":11.08},{"phase":0.1,"mag":11.16},{"phase":0.11,"mag":11.06},{"phase":0.12,"mag":11.12},{"phase":0.13,"mag":11.04},{"phase":0.14,"mag":11.08},{"phase":0.15,"mag":11.02},{"phase":0.165,"mag":10.98},{"phase":0.19,"mag":10.83},{"phase":0.2,"mag":10.88},{"phase":0.21,"mag":10.93},{"phase":0.22,"mag":10.86},{"phase":0.235,"mag":10.95},{"phase":0.25,"mag":10.84},{"phase":0.265,"mag":10.86},{"phase":0.28,"mag":10.8},{"phase":0.29,"mag":10.84},{"phase":0.3,"mag":10.78},{"phase":0.31,"mag":10.82},{"phase":0.32,"mag":10.76},{"phase":0.335,"mag":10.8},{"phase":0.35,"mag":10.74},{"phase":0.36,"mag":10.78},{"phase":0.37,"mag":10.72},{"phase":0.38,"mag":10.76},{"phase":0.39,"mag":10.7},{"phase":0.4,"mag":10.74},{"phase":0.415,"mag":10.69},{"phase":0.42,"mag":10.74},{"phase":0.43,"mag":10.77},{"phase":0.44,"mag":10.72},{"phase":0.45,"mag":10.76},{"phase":0.46,"mag":10.82},{"phase":0.47,"mag":10.9},{"phase":0.475,"mag":10.98},
{"phase":0.495,"mag":10.72},{"phase":0.5,"mag":10.76},{"phase":0.505,"mag":10.8},{"phase":0.515,"mag":10.86},{"phase":0.52,"mag":10.9},{"phase":0.525,"mag":10.96},{"phase":0.53,"mag":11.02},{"phase":0.535,"mag":10.93},{"phase":0.54,"mag":10.98},{"phase":0.55,"mag":11.03},{"phase":0.555,"mag":10.95},{"phase":0.56,"mag":10.9},{"phase":0.57,"mag":10.98},{"phase":0.575,"mag":11.04},{"phase":0.58,"mag":10.94},{"phase":0.59,"mag":10.88},{"phase":0.6,"mag":10.96},{"phase":0.605,"mag":11.02},{"phase":0.61,"mag":10.92},{"phase":0.62,"mag":10.86},{"phase":0.63,"mag":10.95},{"phase":0.64,"mag":11.03},{"phase":0.645,"mag":10.9},{"phase":0.65,"mag":10.85},{"phase":0.66,"mag":10.93},{"phase":0.665,"mag":10.76},{"phase":0.67,"mag":10.82},{"phase":0.68,"mag":10.88},{"phase":0.69,"mag":10.95},{"phase":0.7,"mag":10.83},{"phase":0.71,"mag":10.78},{"phase":0.715,"mag":10.9},{"phase":0.72,"mag":10.86},{"phase":0.73,"mag":10.74},{"phase":0.735,"mag":10.8},{"phase":0.74,"mag":10.92},{"phase":0.75,"mag":10.85},{"phase":0.755,"mag":10.78},{"phase":0.76,"mag":10.94},{"phase":0.77,"mag":10.88},{"phase":0.78,"mag":10.8},{"phase":0.785,"mag":10.92},{"phase":0.79,"mag":10.86},{"phase":0.8,"mag":10.76},{"phase":0.805,"mag":10.83},{"phase":0.81,"mag":10.95},{"phase":0.82,"mag":10.9},{"phase":0.83,"mag":10.98},{"phase":0.835,"mag":10.88},{"phase":0.84,"mag":11.02},{"phase":0.85,"mag":10.96},{"phase":0.86,"mag":11.06},{"phase":0.865,"mag":10.95},{"phase":0.87,"mag":11.1},{"phase":0.875,"mag":11.21},{"phase":0.88,"mag":11.04},{"phase":0.885,"mag":11.15},{"phase":0.89,"mag":11.24},{"phase":0.9,"mag":11.17},{"phase":0.905,"mag":11.1},{"phase":0.91,"mag":11.28},{"phase":0.92,"mag":11.2},{"phase":0.925,"mag":11.32},{"phase":0.935,"mag":11.25},{"phase":0.94,"mag":11.12},{"phase":0.95,"mag":11.35},{"phase":0.96,"mag":11.22},{"phase":0.965,"mag":11.3},{"phase":0.97,"mag":11.45},{"phase":0.975,"mag":11.4},{"phase":0.98,"mag":11.37},{"phase":0.99,"mag":11.49},{"phase":1,"mag":11.42},{"phase":1.01,"mag":11.35},{"phase":1.015,"mag":11.25},{"phase":1.02,"mag":11.3},{"phase":1.03,"mag":11.38},{"phase":1.035,"mag":11.32},{"phase":1.04,"mag":11.42},{"phase":1.05,"mag":11.36},{"phase":1.06,"mag":11.26},{"phase":1.065,"mag":11.48},{"phase":1.07,"mag":11.2},{"phase":1.075,"mag":11.14},{"phase":1.08,"mag":11.24},{"phase":1.09,"mag":11.08},{"phase":1.1,"mag":11.16},{"phase":1.11,"mag":11.06},{"phase":1.12,"mag":11.12},{"phase":1.13,"mag":11.04},{"phase":1.14,"mag":11.08},{"phase":1.15,"mag":11.02},{"phase":1.165,"mag":10.98},{"phase":1.19,"mag":10.83},{"phase":1.2,"mag":10.88},{"phase":1.21,"mag":10.93},{"phase":1.22,"mag":10.86},{"phase":1.235,"mag":10.95},{"phase":1.25,"mag":10.84},{"phase":1.265,"mag":10.86},{"phase":1.28,"mag":10.8},{"phase":1.29,"mag":10.84},{"phase":1.3,"mag":10.78},{"phase":1.31,"mag":10.82},{"phase":1.32,"mag":10.76},{"phase":1.335,"mag":10.8},{"phase":1.35,"mag":10.74},{"phase":1.36,"mag":10.78},{"phase":1.37,"mag":10.72},{"phase":1.38,"mag":10.76},{"phase":1.39,"mag":10.7},{"phase":1.4,"mag":10.74},{"phase":1.415,"mag":10.69},{"phase":1.42,"mag":10.74},{"phase":1.43,"mag":10.77},{"phase":1.44,"mag":10.72},{"phase":1.45,"mag":10.76},{"phase":1.46,"mag":10.82},{"phase":1.47,"mag":10.9},{"phase":1.475,"mag":10.98},
{"phase":1.495,"mag":10.72},{"phase":1.5,"mag":10.76},{"phase":1.505,"mag":10.8}],
"ciI":[{"phase":-0.505,"mag":6.97},{"phase":-0.503,"mag":6.99},{"phase":-0.498,"mag":7.015},{"phase":-0.49,"mag":7.11},{"phase":-0.475,"mag":7.09},{"phase":-0.465,"mag":7.06},{"phase":-0.458,"mag":7.076},{"phase":-0.448,"mag":7.061},{"phase":-0.44,"mag":7.022},{"phase":-0.43,"mag":7.1},{"phase":-0.425,"mag":7.05},{"phase":-0.419,"mag":7.047},{"phase":-0.41,"mag":7.086},{"phase":-0.4,"mag":7.106},{"phase":-0.4,"mag":7.126},{"phase":-0.391,"mag":7.066},{"phase":-0.385,"mag":7.03},{"phase":-0.372,"mag":7.037},{"phase":-0.372,"mag":7.017},{"phase":-0.362,"mag":7.086},{"phase":-0.353,"mag":7.12},{"phase":-0.344,"mag":6.957},{"phase":-0.334,"mag":6.987},{"phase":-0.305,"mag":7.047},{"phase":-0.315,"mag":6.97},{"phase":-0.3,"mag":6.96},{"phase":-0.29,"mag":6.98},{"phase":-0.28,"mag":6.955},{"phase":-0.27,"mag":6.995},{"phase":-0.258,"mag":6.933},{"phase":-0.25,"mag":6.95},{"phase":-0.24,"mag":6.975},{"phase":-0.23,"mag":7.0},{"phase":-0.22,"mag":6.99},{"phase":-0.215,"mag":6.96},{"phase":-0.205,"mag":6.95},{"phase":-0.19,"mag":6.96},{"phase":-0.18,"mag":6.97},{"phase":-0.17,"mag":6.945},{"phase":-0.152,"mag":6.943},{"phase":-0.124,"mag":6.938},{"phase":-0.115,"mag":6.918},{"phase":-0.096,"mag":6.928},{"phase":-0.145,"mag":6.96},{"phase":-0.15,"mag":6.99},{"phase":-0.14,"mag":7.01},{"phase":-0.135,"mag":7.02},{"phase":-0.15,"mag":7.04},{"phase":-0.125,"mag":7.03},{"phase":-0.12,"mag":7.01},{"phase":-0.11,"mag":7.04},{"phase":-0.1,"mag":7.02},{"phase":-0.155,"mag":7.07},{"phase":-0.14,"mag":7.08},{"phase":-0.09,"mag":7.05},{"phase":-0.08,"mag":7.08},{"phase":-0.07,"mag":7.07},{"phase":-0.06,"mag":7.1},{"phase":-0.05,"mag":7.04},{"phase":-0.04,"mag":7.07},{"phase":-0.045,"mag":7.13},{"phase":-0.035,"mag":7.05},{"phase":-0.03,"mag":7.11},{"phase":-0.02,"mag":7.14},{"phase":-0.015,"mag":7.06},{"phase":-0.002,"mag":7.037},{"phase":0,"mag":7.15},{"phase":0.01,"mag":7.12},{"phase":0.02,"mag":7.05},{"phase":0.036,"mag":6.982},{"phase":0.046,"mag":7.071},{"phase":0.055,"mag":7.09},{"phase":0.065,"mag":7.14},{"phase":0.065,"mag":7.16},{"phase":0.068,"mag":7.175},{"phase":0.07,"mag":7.07},{"phase":0.08,"mag":7.09},{"phase":0.093,"mag":7.02},{"phase":0.1,"mag":7.04},{"phase":0.11,"mag":7.03},{"phase":0.12,"mag":7.07},{"phase":0.13,"mag":7.05},{"phase":0.125,"mag":7.1},{"phase":0.14,"mag":7.13},{"phase":0.15,"mag":7.08},{"phase":0.188,"mag":6.933},{"phase":0.19,"mag":6.96},{"phase":0.2,"mag":6.98},{"phase":0.21,"mag":7.0},{"phase":0.22,"mag":7.02},{"phase":0.215,"mag":7.05},{"phase":0.23,"mag":6.99},{"phase":0.24,"mag":6.97},{"phase":0.26,"mag":6.97},{"phase":0.27,"mag":6.99},{"phase":0.28,"mag":7.0},{"phase":0.3,"mag":6.985},{"phase":0.31,"mag":6.96},{"phase":0.32,"mag":6.95},{"phase":0.33,"mag":6.98},{"phase":0.35,"mag":6.99},{"phase":0.36,"mag":6.975},{"phase":0.38,"mag":6.97},{"phase":0.4,"mag":6.99},{"phase":0.42,"mag":7.0},{"phase":0.44,"mag":7.04},{"phase":0.455,"mag":7.06},{"phase":0.47,"mag":7.05},{"phase":0.48,"mag":7.02},
{"phase":0.495,"mag":6.97},{"phase":0.497,"mag":6.99},{"phase":0.502,"mag":7.015},{"phase":0.51,"mag":7.11},{"phase":0.525,"mag":7.09},{"phase":0.535,"mag":7.06},{"phase":0.542,"mag":7.076},{"phase":0.552,"mag":7.061},{"phase":0.56,"mag":7.022},{"phase":0.57,"mag":7.1},{"phase":0.575,"mag":7.05},{"phase":0.581,"mag":7.047},{"phase":0.59,"mag":7.086},{"phase":0.6,"mag":7.106},{"phase":0.6,"mag":7.126},{"phase":0.609,"mag":7.066},{"phase":0.615,"mag":7.03},{"phase":0.628,"mag":7.037},{"phase":0.628,"mag":7.017},{"phase":0.638,"mag":7.086},{"phase":0.647,"mag":7.12},{"phase":0.656,"mag":6.957},{"phase":0.666,"mag":6.987},{"phase":0.695,"mag":7.047},{"phase":0.685,"mag":6.97},{"phase":0.7,"mag":6.96},{"phase":0.71,"mag":6.98},{"phase":0.72,"mag":6.955},{"phase":0.73,"mag":6.995},{"phase":0.742,"mag":6.933},{"phase":0.75,"mag":6.95},{"phase":0.76,"mag":6.975},{"phase":0.77,"mag":7.0},{"phase":0.78,"mag":6.99},{"phase":0.785,"mag":6.96},{"phase":0.795,"mag":6.95},{"phase":0.81,"mag":6.96},{"phase":0.82,"mag":6.97},{"phase":0.83,"mag":6.945},{"phase":0.848,"mag":6.943},{"phase":0.876,"mag":6.938},{"phase":0.885,"mag":6.918},{"phase":0.904,"mag":6.928},{"phase":0.855,"mag":6.96},{"phase":0.85,"mag":6.99},{"phase":0.86,"mag":7.01},{"phase":0.865,"mag":7.02},{"phase":0.85,"mag":7.04},{"phase":0.875,"mag":7.03},{"phase":0.88,"mag":7.01},{"phase":0.89,"mag":7.04},{"phase":0.9,"mag":7.02},{"phase":0.845,"mag":7.07},{"phase":0.86,"mag":7.08},{"phase":0.91,"mag":7.05},{"phase":0.92,"mag":7.08},{"phase":0.93,"mag":7.07},{"phase":0.94,"mag":7.1},{"phase":0.95,"mag":7.04},{"phase":0.96,"mag":7.07},{"phase":0.955,"mag":7.13},{"phase":0.965,"mag":7.05},{"phase":0.97,"mag":7.11},{"phase":0.98,"mag":7.14},{"phase":0.985,"mag":7.06},{"phase":0.998,"mag":7.037},{"phase":1,"mag":7.15},{"phase":1.01,"mag":7.12},{"phase":1.02,"mag":7.05},{"phase":1.036,"mag":6.982},{"phase":1.046,"mag":7.071},{"phase":1.055,"mag":7.09},{"phase":1.065,"mag":7.14},{"phase":1.065,"mag":7.16},{"phase":1.068,"mag":7.175},{"phase":1.07,"mag":7.07},{"phase":1.08,"mag":7.09},{"phase":1.093,"mag":7.02},{"phase":1.1,"mag":7.04},{"phase":1.11,"mag":7.03},{"phase":1.12,"mag":7.07},{"phase":1.13,"mag":7.05},{"phase":1.125,"mag":7.1},{"phase":1.14,"mag":7.13},{"phase":1.15,"mag":7.08},{"phase":1.188,"mag":6.933},{"phase":1.19,"mag":6.96},{"phase":1.2,"mag":6.98},{"phase":1.21,"mag":7.0},{"phase":1.22,"mag":7.02},{"phase":1.215,"mag":7.05},{"phase":1.23,"mag":6.99},{"phase":1.24,"mag":6.97},{"phase":1.26,"mag":6.97},{"phase":1.27,"mag":6.99},{"phase":1.28,"mag":7.0},{"phase":1.3,"mag":6.985},{"phase":1.31,"mag":6.96},{"phase":1.32,"mag":6.95},{"phase":1.33,"mag":6.98},{"phase":1.35,"mag":6.99},{"phase":1.36,"mag":6.975},{"phase":1.38,"mag":6.97},{"phase":1.4,"mag":6.99},{"phase":1.42,"mag":7.0},{"phase":1.44,"mag":7.04},{"phase":1.455,"mag":7.06},{"phase":1.47,"mag":7.05},{"phase":1.48,"mag":7.02},
{"phase":1.495,"mag":6.97},{"phase":1.497,"mag":6.99},{"phase":1.502,"mag":7.015}]
},
"hconcat":[
{"title":{"text":"YY Her","offset":-43,"dx":50},"spacing":0,"bounds":"flush","vconcat":[
{"width":385,"height":160,"title":{"text":"U","offset":-143,"dx":34},
"encoding":{
"x":{"field":"phase","type":"quantitative","scale":{"domain":[-0.6,1.6],"nice":false,"zero":false},"axis":{"values":[-0.5,-0.25,0,0.25,0.5,0.75,1,1.25,1.5],"labels":false,"title":null,"gridDash":{"condition":{"test":"abs(datum.value % 0.5) < 0.001","value":[14,132]},"value":[8,144]}}},
"y":{"field":"mag","type":"quantitative","scale":{"domain":[12.5,15.5],"reverse":true,"nice":false,"zero":false},"axis":{"values":[13,13.5,14,14.5,15],"title":null,"labelPadding":11,"labelExpr":"datum.value % 1 == 0 ? '' + datum.value : ''","gridDash":{"condition":{"test":"datum.value % 1 == 0","value":[15,355]},"value":[7,371]}}}},
"layer":[
{"data":{"name":"yyUfit"},"mark":{"type":"line","color":"black","strokeWidth":1,"clip":true}},
{"data":{"name":"yyU"},"mark":{"type":"point","filled":true,"color":"black","size":50,"opacity":1,"clip":true}}
]},
{"width":385,"height":160,"title":{"text":"V","offset":-146,"dx":44},
"encoding":{
"x":{"field":"phase","type":"quantitative","scale":{"domain":[-0.6,1.6],"nice":false,"zero":false},"axis":{"values":[-0.5,-0.25,0,0.25,0.5,0.75,1,1.25,1.5],"labels":false,"title":null,"gridDash":{"condition":{"test":"abs(datum.value % 0.5) < 0.001","value":[14,132]},"value":[8,144]}}},
"y":{"field":"mag","type":"quantitative","scale":{"domain":[12.64,13.96],"reverse":true,"nice":false,"zero":false},"axis":{"values":[12.75,13,13.25,13.5,13.75],"title":null,"labelPadding":{"condition":{"test":"datum.value % 1 != 0","value":21},"value":11},"labelExpr":"datum.value % 0.5 == 0 ? '' + datum.value : ''","gridDash":{"condition":{"test":"datum.value % 0.5 == 0","value":[15,355]},"value":[7,371]}}}},
"layer":[
{"data":{"name":"yyVfit"},"mark":{"type":"line","color":"black","strokeWidth":1,"clip":true}},
{"data":{"name":"yyVf"},"mark":{"type":"point","filled":true,"color":"black","size":50,"opacity":1,"clip":true}},
{"data":{"name":"yyVo"},"mark":{"type":"point","filled":true,"fill":"white","stroke":"black","strokeWidth":1.2,"size":50,"opacity":1,"clip":true}}
]},
{"width":385,"height":160,"title":{"text":"I","offset":-149,"dx":44},
"encoding":{
"x":{"field":"phase","type":"quantitative","scale":{"domain":[-0.6,1.6],"nice":false,"zero":false},"axis":{"values":[-0.5,-0.25,0,0.25,0.5,0.75,1,1.25,1.5],"labels":true,"labelPadding":22,"labelExpr":"abs(datum.value % 0.5) < 0.001 ? '' + datum.value : ''","title":"Phase","titlePadding":8,"gridDash":{"condition":{"test":"abs(datum.value % 0.5) < 0.001","value":[14,132]},"value":[8,144]}}},
"y":{"field":"mag","type":"quantitative","scale":{"domain":[9.815,10.25],"reverse":true,"nice":false,"zero":false},"axis":{"values":[9.9,10,10.1,10.2],"title":null,"labelPadding":{"condition":{"test":"datum.value == 10.2","value":23},"value":16},"labelExpr":"(datum.value == 10 || datum.value == 10.2) ? '' + datum.value : ''","gridDash":{"condition":{"test":"datum.value == 10 || datum.value == 10.2","value":[15,355]},"value":[7,371]}}}},
"layer":[
{"data":{"name":"yyIfit"},"mark":{"type":"line","color":"black","strokeWidth":1,"clip":true}},
{"data":{"name":"yyIo"},"mark":{"type":"point","filled":true,"fill":"white","stroke":"black","strokeWidth":1.2,"size":50,"opacity":1,"clip":true}},
{"data":{"name":"yyIf"},"mark":{"type":"point","filled":true,"color":"black","size":50,"opacity":1,"clip":true}}
]}
]},
{"title":{"text":"CI Cyg","offset":-43,"dx":42},"spacing":0,"bounds":"flush","vconcat":[
{"width":378,"height":160,"title":{"text":"U","offset":-133,"dx":38},
"data":{"name":"ciU"},
"mark":{"type":"point","filled":true,"color":"black","size":70,"opacity":1,"clip":true},
"encoding":{
"x":{"field":"phase","type":"quantitative","scale":{"domain":[-0.6,1.565],"nice":false,"zero":false},"axis":{"values":[-0.5,-0.25,0,0.25,0.5,0.75,1,1.25,1.5],"labels":false,"title":null,"gridDash":{"condition":{"test":"abs(datum.value % 0.5) < 0.001","value":[14,132]},"value":[8,144]}}},
"y":{"field":"mag","type":"quantitative","scale":{"domain":[10.84,13.5],"reverse":true,"nice":false,"zero":false},"axis":{"values":[11,11.5,12,12.5,13],"title":null,"labelPadding":16,"labelExpr":"datum.value % 1 == 0 ? '' + datum.value : ''","gridDash":{"condition":{"test":"datum.value % 1 == 0","value":[15,348]},"value":[7,364]}}}}},
{"width":378,"height":160,"title":{"text":"V","offset":-138,"dx":35},
"data":{"name":"ciV"},
"mark":{"type":"point","filled":true,"color":"black","size":60,"opacity":1,"clip":true},
"encoding":{
"x":{"field":"phase","type":"quantitative","scale":{"domain":[-0.6,1.565],"nice":false,"zero":false},"axis":{"values":[-0.5,-0.25,0,0.25,0.5,0.75,1,1.25,1.5],"labels":false,"title":null,"gridDash":{"condition":{"test":"abs(datum.value % 0.5) < 0.001","value":[14,132]},"value":[8,144]}}},
"y":{"field":"mag","type":"quantitative","scale":{"domain":[10.525,11.7],"reverse":true,"nice":false,"zero":false},"axis":{"values":[10.75,11,11.25,11.5],"title":null,"labelPadding":{"condition":{"test":"datum.value == 11.5","value":19},"value":16},"labelExpr":"datum.value % 0.5 == 0 ? '' + datum.value : ''","gridDash":{"condition":{"test":"datum.value % 0.5 == 0","value":[15,348]},"value":[7,364]}}}}},
{"width":378,"height":160,"title":{"text":"I","offset":-151,"dx":33},
"data":{"name":"ciI"},
"mark":{"type":"point","filled":true,"color":"black","size":60,"opacity":1,"clip":true},
"encoding":{
"x":{"field":"phase","type":"quantitative","scale":{"domain":[-0.6,1.565],"nice":false,"zero":false},"axis":{"values":[-0.5,-0.25,0,0.25,0.5,0.75,1,1.25,1.5],"labels":true,"labelPadding":22,"labelExpr":"abs(datum.value % 0.5) < 0.001 ? '' + datum.value : ''","title":"Phase","titlePadding":8,"gridDash":{"condition":{"test":"abs(datum.value % 0.5) < 0.001","value":[14,132]},"value":[8,144]}}},
"y":{"field":"mag","type":"quantitative","scale":{"domain":[6.816,7.29],"reverse":true,"nice":false,"zero":false},"axis":{"values":[6.9,7,7.1,7.2],"title":null,"labelPadding":{"condition":{"test":"datum.value == 7.2","value":21},"value":18},"labelExpr":"(datum.value == 7 || datum.value == 7.2) ? '' + datum.value : ''","gridDash":{"condition":{"test":"datum.value == 7 || datum.value == 7.2","value":[15,348]},"value":[7,364]}}}}}
]}
]
}
